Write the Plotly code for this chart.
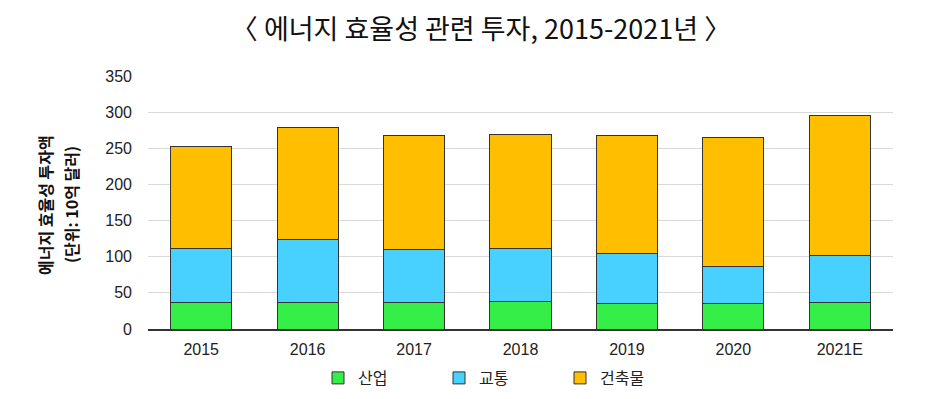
import plotly.graph_objects as go

years = ["2015", "2016", "2017", "2018", "2019", "2020", "2021E"]
industry = [36, 37, 37, 38, 35, 35, 37]
transport = [76, 86.5, 73, 74, 70, 52, 65]
buildings = [141, 155.5, 158, 157, 163, 178.5, 193]
y_ticks = [0, 50, 100, 150, 200, 250, 300, 350]

series = [
    ("산업", industry, "#36ee48"),
    ("교통", transport, "#48d0ff"),
    ("건축물", buildings, "#ffbf00"),
]

fig = go.Figure()
for name, vals, color in series:
    fig.add_trace(go.Bar(
        x=years, y=vals, name=name,
        marker=dict(color=color, line=dict(color="#333333", width=1)),
    ))

# page body has an 8px default margin; lay out in window coordinates
OFF = 8
FW, FH = 943 - 2 * OFF, 399 - 2 * OFF
PL, PR, PT, PB = 148, 893, 76, 329          # plot box in window px
L, T = PL - OFF, PT - OFF
R, B = FW - (PR - OFF), FH - (PB - OFF)


def cy(ywin):
    return 1 - (ywin - OFF) / FH


def cx(xwin):
    return (xwin - OFF) / FW


def px_x(xwin):
    return (xwin - PL) / (PR - PL)


ytitle_lines = [("에너지 효율성 투자액", 45), ("(단위: 10억 달러)", 71)]

fig.update_layout(
    width=FW, height=FH,
    barmode="stack", bargap=0.425,
    plot_bgcolor="white", paper_bgcolor="white",
    margin=dict(l=L, r=R, t=T, b=B, autoexpand=False),
    title=dict(
        text="〈 에너지 효율성 관련 투자, 2015-2021년 〉",
        x=cx(481), xanchor="center", y=cy(30), yanchor="middle",
        font=dict(family="Noto Sans CJK KR", size=27, color="#111111"),
    ),
    showlegend=True,
    legend=dict(
        orientation="h", traceorder="normal",
        x=cx(318), xanchor="left", xref="container",
        y=cy(378), yref="container", yanchor="middle",
        font=dict(family="Noto Sans CJK KR", size=16, color="#222222"),
        entrywidth=76, entrywidthmode="pixels",
        itemclick=False,
    ),
    xaxis=dict(
        showline=True, linecolor="#333333", linewidth=1.5,
        ticks="", ticklabelstandoff=5,
        tickfont=dict(family="Liberation Sans", size=16, color="#222222"),
        showgrid=False,
    ),
    yaxis=dict(
        range=[0, 350], tickvals=y_ticks, ticktext=[str(v) for v in y_ticks],
        showgrid=True, gridcolor="#d9d9d9", gridwidth=1,
        zeroline=False, showline=False, ticks="",
        ticklabelstandoff=15,
        tickfont=dict(family="Liberation Sans", size=16, color="#222222"),
    ),
    annotations=[dict(
        text="<b>" + txt + "</b>",
        xref="paper", yref="paper",
        x=px_x(xw), y=(PB - 205) / (PB - PT),
        xanchor="center", yanchor="middle", textangle=-90, showarrow=False,
        font=dict(family="Noto Sans CJK KR", size=16, color="#111111"),
    ) for txt, xw in ytitle_lines],
)

fig.write_html("out.html")
